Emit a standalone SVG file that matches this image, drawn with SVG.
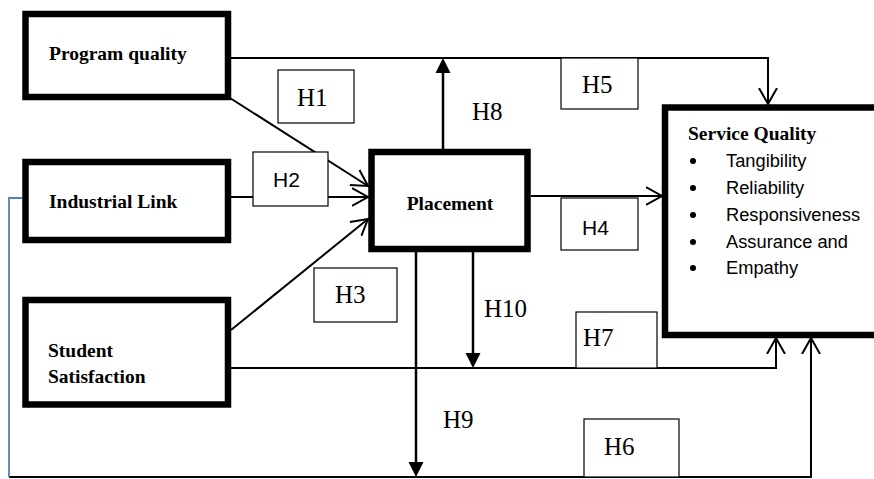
<svg xmlns="http://www.w3.org/2000/svg" width="874" height="479" viewBox="0 0 874 479">
<style>
.node{fill:#fff;stroke:#000;stroke-width:6.5}
.lbl{font-family:"Liberation Serif","Times New Roman",serif;font-weight:bold;font-size:19.5px;fill:#000}
.hbox{fill:#fff;stroke:#000;stroke-width:1.2}
.h{font-family:"Liberation Serif","Times New Roman",serif;font-size:25px;fill:#000}
.hs{font-family:"Liberation Sans",Arial,sans-serif;font-size:21px;fill:#000}
.c{fill:none;stroke:#000;stroke-width:2}
.v{fill:none;stroke:#000;stroke-width:2.5}
.bul{font-family:"Liberation Sans",Arial,sans-serif;font-size:18.3px;fill:#000}
</style>
<defs>
<marker id="open" markerUnits="userSpaceOnUse" viewBox="0 0 20 20" markerWidth="20" markerHeight="20" refX="16" refY="10" orient="auto">
<path d="M0,1 L16,10 L0,19" fill="none" stroke="#000" stroke-width="2"/>
</marker>
<marker id="fill" markerUnits="userSpaceOnUse" viewBox="0 0 16 16" markerWidth="16" markerHeight="16" refX="11" refY="8" orient="auto">
<path d="M0,0.5 L15,8 L0,15.5Z" fill="#000"/>
</marker>
</defs>
<g id="connectors">
<path class="c" d="M231,58 H768 V104" marker-end="url(#open)"/>
<path class="c" d="M230,98 L368,186" marker-end="url(#open)"/>
<path class="c" d="M231,197 H368" marker-end="url(#open)"/>
<path class="c" d="M231,330 L368,219" marker-end="url(#open)"/>
<path class="c" d="M531,196 H662" marker-end="url(#open)"/>
<path class="c" d="M231,368 H776 V338" marker-end="url(#open)"/>
<path class="c" d="M9,477 H811 V338" marker-end="url(#open)"/>
<path fill="none" stroke="#4f81bd" stroke-width="1.8" d="M22,198 H9 V477"/>
<path class="v" d="M443,149 V62" marker-end="url(#fill)"/>
<path class="v" d="M416,252 V473" marker-end="url(#fill)"/>
<path class="v" d="M473,252 V364" marker-end="url(#fill)"/>
</g>
<g id="labels">
<rect class="hbox" x="278" y="70" width="76" height="53"/><text class="h" x="297" y="106">H1</text>
<rect class="hbox" x="253" y="152" width="75" height="54"/><text class="hs" x="273" y="187">H2</text>
<rect class="hbox" x="561" y="58" width="77" height="51"/><text class="h" x="582" y="93">H5</text>
<rect class="hbox" x="561" y="198" width="77" height="52"/><text class="hs" x="582" y="235">H4</text>
<rect class="hbox" x="314" y="268" width="83" height="54"/><text class="h" x="335" y="303">H3</text>
<rect class="hbox" x="576" y="312" width="81" height="56"/><text class="h" x="583" y="346">H7</text>
<rect class="hbox" x="584" y="419" width="95" height="58"/><text class="h" x="604" y="455">H6</text>
<text class="h" x="472" y="120">H8</text>
<text class="h" x="443" y="428">H9</text>
<text class="h" x="484" y="317">H10</text>
</g>
<g id="program-quality">
<rect class="node" x="25.5" y="14" width="202.5" height="83"/>
<text class="lbl" x="49" y="60">Program quality</text>
</g>
<g id="industrial-link">
<rect class="node" x="25.5" y="162" width="202.5" height="78"/>
<text class="lbl" x="49" y="208">Industrial Link</text>
</g>
<g id="student-satisfaction">
<rect class="node" x="25.5" y="300" width="202.5" height="104.5"/>
<text class="lbl" x="48" y="357">Student</text>
<text class="lbl" x="48" y="383">Satisfaction</text>
</g>
<g id="placement">
<rect class="node" x="371.5" y="152" width="156" height="97"/>
<text class="lbl" x="450" y="210" text-anchor="middle">Placement</text>
</g>
<g id="service-quality">
<rect class="node" x="665" y="107.5" width="240" height="227.5"/>
<text class="lbl" x="688" y="140">Service Quality</text>
<circle cx="693" cy="161" r="3"/><text class="bul" x="726" y="167">Tangibility</text>
<circle cx="693" cy="188" r="3"/><text class="bul" x="726" y="194">Reliability</text>
<circle cx="693" cy="215" r="3"/><text class="bul" x="726" y="221">Responsiveness</text>
<circle cx="693" cy="242" r="3"/><text class="bul" x="726" y="248">Assurance and</text>
<circle cx="693" cy="268" r="3"/><text class="bul" x="726" y="274">Empathy</text>
</g>
</svg>
